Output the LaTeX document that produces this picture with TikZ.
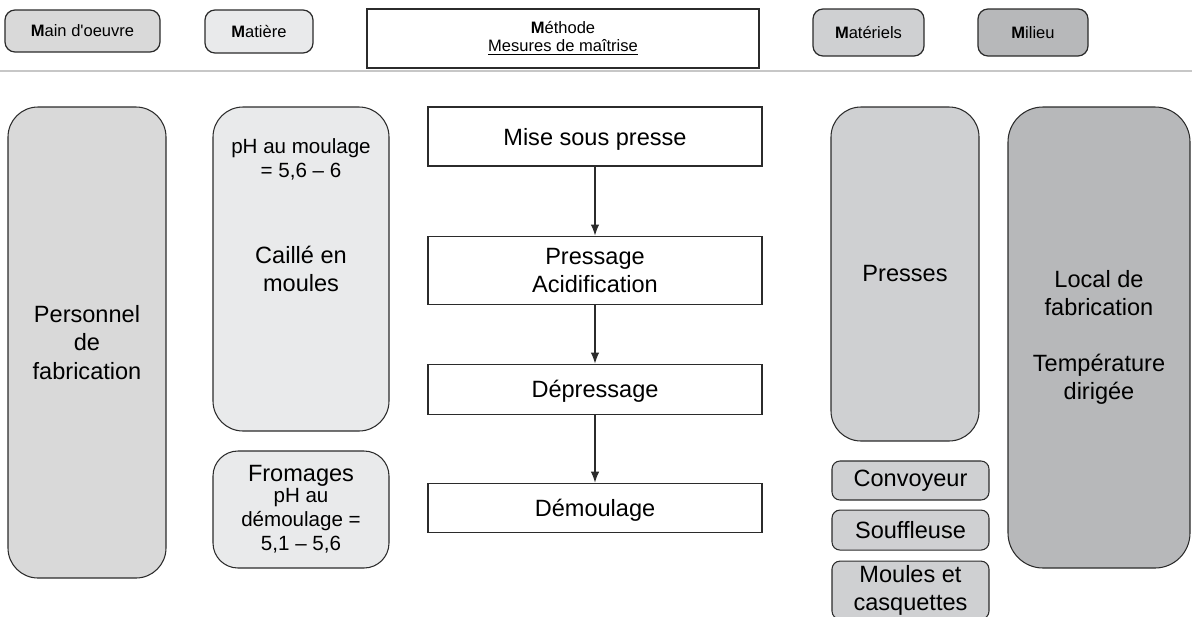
\documentclass[tikz,border=0pt]{standalone}
\usepackage{fontspec}
\setmainfont{Liberation Sans}
\usetikzlibrary{positioning,arrows.meta}

\definecolor{mocol}{HTML}{D9D9D9}
\definecolor{macol}{HTML}{E9EAEB}
\definecolor{mtcol}{HTML}{CFD0D2}
\definecolor{micol}{HTML}{B7B8BA}
\definecolor{trait}{HTML}{2B2B2B}
\newcommand{\entete}{\fontsize{9.4}{10.2}\selectfont}
\newcommand{\grand}{\fontsize{13.4}{16}\selectfont}
\newcommand{\petit}{\fontsize{11.7}{13.8}\selectfont}

\begin{document}
\begin{tikzpicture}[
        tete/.style={draw=trait, line width=0.7pt, rounded corners=0.2cm, inner sep=0pt, align=center, font=\entete},
        bloc/.style={draw=trait, line width=0.6pt, inner sep=0pt, align=center, font=\grand},
        etape/.style={bloc, fill=white, minimum width=6.68cm, text depth=0pt},
        fleche/.style={-{Latex[length=2.2mm,width=1.7mm]}, draw=trait, line width=0.6pt}
    ]
        \useasboundingbox (0,0) rectangle (23.84,-12.32);

        \node[tete, fill=mocol, minimum width=3.1cm, minimum height=0.84cm] (tmo) at (1.65,-0.62) {\textbf{M}ain d\textquotesingle oeuvre};
        \node[tete, fill=macol, minimum width=2.16cm, minimum height=0.86cm] (tma) at (5.18,-0.63) {\textbf{M}atière};
        \node[tete, fill=white, rounded corners=0pt, minimum width=7.84cm, minimum height=1.18cm] (tme) at (11.26,-0.77) {\textbf{M}éthode\\\underline{Mesures de maîtrise}};
        \node[tete, fill=mtcol, minimum width=2.22cm, minimum height=0.94cm] (tmt) at (17.37,-0.65) {\textbf{M}atériels};
        \node[tete, fill=micol, minimum width=2.2cm, minimum height=0.94cm] (tmi) at (20.66,-0.65) {\textbf{M}ilieu};

        \coordinate (sepg) at (0,-1.42);
        \coordinate (sepd) at (23.84,-1.42);
        \draw[black!22, line width=0.6pt] (sepg) -- (sepd);

        \node[bloc, fill=mocol, rounded corners=0.6cm, minimum width=3.16cm, minimum height=9.42cm] (personnel) at (1.74,-6.85) {Personnel\\de\\fabrication};

        \node[bloc, fill=macol, rounded corners=0.6cm, minimum width=3.52cm, minimum height=6.48cm] (caille) at (6.02,-5.38) {Caillé en\\moules};
        \node[font=\petit, align=center, inner sep=0pt] (phmoul) at (6.02,-3.18) {pH au moulage\\= 5,6 – 6};
        \node[bloc, fill=macol, rounded corners=0.5cm, minimum width=3.52cm, minimum height=2.34cm, font=\petit] (fromages) at (6.02,-10.19) {{\grand Fromages}\\[-2pt]pH au\\démoulage =\\5,1 – 5,6};

        \node[etape, minimum height=1.18cm] (mise) at (11.9,-2.73) {Mise sous presse};
        \node[etape, minimum height=1.36cm, below=1.38cm of mise] (pressage) {Pressage\\Acidification};
        \node[etape, minimum height=1cm, below=1.18cm of pressage] (depressage) {Dépressage};
        \node[etape, minimum height=0.98cm, below=1.36cm of depressage] (demoulage) {Démoulage};
        \draw[fleche] (mise) -- (pressage);
        \draw[fleche] (pressage) -- (depressage);
        \draw[fleche] (depressage) -- (demoulage);

        \node[bloc, fill=mtcol, rounded corners=0.6cm, minimum width=2.96cm, minimum height=6.68cm] (presses) at (18.1,-5.48) {Presses};
        \node[bloc, fill=mtcol, rounded corners=0.16cm, minimum width=3.14cm, minimum height=0.78cm] (convoyeur) at (18.21,-9.61) {Convoyeur};
        \node[bloc, fill=mtcol, rounded corners=0.16cm, minimum width=3.14cm, minimum height=0.8cm, below=0.18cm of convoyeur] (souffleuse) {Souffleuse};
        \node[bloc, fill=mtcol, rounded corners=0.16cm, minimum width=3.14cm, minimum height=1.16cm, below=0.2cm of souffleuse] (moules) {Moules et\\casquettes};

        \node[bloc, fill=micol, rounded corners=0.7cm, minimum width=3.64cm, minimum height=9.22cm] (local) at (21.98,-6.75) {Local de\\fabrication\\[16pt]Température\\dirigée};

    \end{tikzpicture}
\end{document}
